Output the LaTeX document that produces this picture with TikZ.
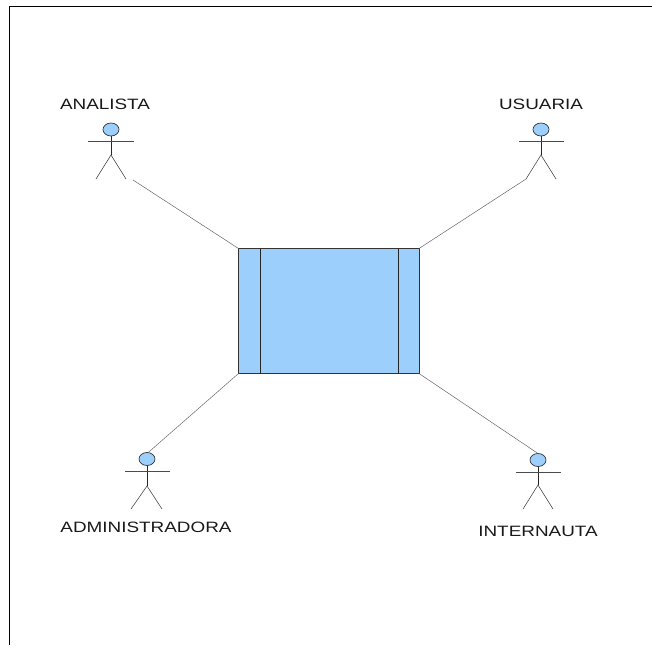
\documentclass[tikz,border=0pt]{standalone}
\usepackage{fontspec}
\setmainfont{Liberation Sans}
\usetikzlibrary{shapes.geometric}
\definecolor{actorblue}{RGB}{157,207,252}
\tikzset{
	head/.style={ellipse,draw=black!80,fill=actorblue,line width=0.7pt,minimum width=16pt,minimum height=13pt,inner sep=0pt,outer sep=0pt},
	limb/.style={draw=black!70,line width=0.6pt},
	spine/.style={draw=black!85,line width=0.7pt},
	link/.style={draw=black!60,line width=0.5pt},
	actorname/.style={font=\fontsize{15}{15}\selectfont,xscale=1.26,text=black!90,inner sep=0pt}
}
\begin{document}
\begin{tikzpicture}[x=1pt,y=-1pt]
	\useasboundingbox (0,0) rectangle (652,645);
	% Page frame
	\draw [line width=1pt] (9,645) |- (652,6);
	% System box
	\node (system) [draw=black!80,fill=actorblue,line width=0.7pt,minimum width=180.5pt,minimum height=125pt,inner sep=0pt,outer sep=0pt] at (328.75,311) {};
	\draw [spine] ([xshift=21.5pt]system.north west) -- ([xshift=21.5pt]system.south west);
	\draw [spine] ([xshift=-20.5pt]system.north east) -- ([xshift=-20.5pt]system.south east);
	% Analista
	\node (analista) [actorname] at (105,104) {ANALISTA};
	\node (head_a) [head] at (111,129.5) {};
	\coordinate (crotch_a) at (111,155);
	\coordinate (leg_a) at (126,179);
	\coordinate (free_a) at (133,180);
	\draw [spine] (head_a) -- (crotch_a);
	\draw [limb] (96,179) -- (crotch_a) -- (leg_a);
	\draw [limb] (88,141.5) -- (134,141.5);
	\draw [link] (free_a) -- (system.north west);
	% Usuaria
	\node (usuaria) [actorname] at (541,104) {USUARIA};
	\node (head_u) [head] at (541,129.5) {};
	\coordinate (crotch_u) at (541,155);
	\coordinate (leg_u) at (526,179);
	\draw [spine] (head_u) -- (crotch_u);
	\draw [limb] (leg_u) -- (crotch_u) -- (556,179);
	\draw [limb] (519,141.5) -- (564,141.5);
	\draw [link] (leg_u) -- (system.north east);
	% Administradora
	\node (administradora) [actorname] at (146,527) {ADMINISTRADORA};
	\node (head_d) [head] at (147,459) {};
	\coordinate (crotch_d) at (147,486);
	\draw [spine] (head_d) -- (crotch_d);
	\draw [limb] (131,509) -- (crotch_d) -- (162,509);
	\draw [limb] (125,471.5) -- (170,471.5);
	\draw [link] (head_d.80) -- (system.south west);
	% Internauta
	\node (internauta) [actorname] at (538,531) {INTERNAUTA};
	\node (head_i) [head] at (538,460) {};
	\coordinate (crotch_i) at (538,485);
	\draw [spine] (head_i) -- (crotch_i);
	\draw [limb] (523,509) -- (crotch_i) -- (553,509);
	\draw [limb] (515.5,472) -- (561,472);
	\draw [link] (head_i.north) -- (system.south east);
\end{tikzpicture}
\end{document}
